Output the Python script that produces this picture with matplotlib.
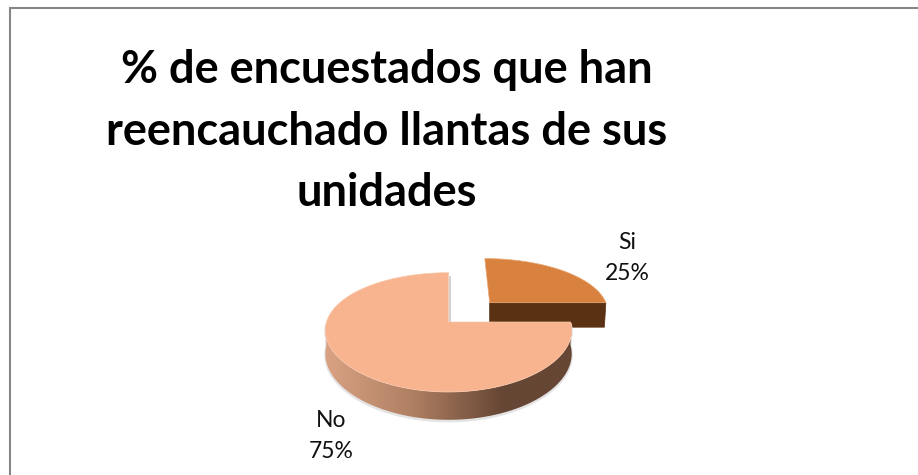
import numpy as np
import matplotlib
matplotlib.use("Agg")
import matplotlib.pyplot as plt
from matplotlib.patches import Polygon
from matplotlib.colors import LinearSegmentedColormap

# Survey results
categories = ["Si", "No"]
values = [25, 75]
title_lines = ["% de encuestados que han", "reencauchado llantas de sus", "unidades"]

W, H = 918, 475
fig = plt.figure(figsize=(W / 100, H / 100), dpi=100)
ax = fig.add_axes([0, 0, 1, 1])
ax.set_xlim(0, W)
ax.set_ylim(H, 0)
ax.axis("off")
plt.rcParams["font.family"] = ["Lato", "DejaVu Sans"]

# Chart frame: only the top and left edges fall inside the canvas
ax.plot([10, 10, W], [H, 8, 8], color="#868686", lw=1.5, solid_joinstyle="miter")

# Perspective view of the pie plane
CX, CY, RX, A, BX, BY, DEPTH = 448.5, 322.0, 122.0, 57.85, 0.14, 0.1735, 23.0


def project(u, v, z=0.0):
    return CX + RX * u / (1 + BX * v), CY + (z - A * v) / (1 + BY * v)


def slice_outline(start, stop, du=0.0, dv=0.0, n=120):
    t = np.radians(np.linspace(start, stop, n))
    u = np.concatenate([[du], du + np.sin(t), [du]])
    v = np.concatenate([[dv], dv + np.cos(t), [dv]])
    return u, v


fractions = np.array(values) / sum(values) * 360
si_sweep, no_sweep = fractions

# Exploded "Si" slice: flat front wall, then the top face
EXPLODE = 0.354
u, v = slice_outline(0, si_sweep, EXPLODE, EXPLODE)
x0, y0 = project(u, v)
x1, y1 = project(u, v, DEPTH * 1.13)
front = np.array([[x0[0], y0[0]], [x0[-2], y0[-2]], [x1[-2] - 1.5, y1[-2]], [x1[0], y1[0]]])
ax.add_patch(Polygon(front, fc="#5A3213", ec="#5A3213", lw=0.5, zorder=2))
ax.add_patch(Polygon(np.c_[x0, y0], fc="#D9823F", ec="#E7A877", lw=0.5, zorder=3))

# "No" slice: curved wall with a horizontal gradient, then the top face
u, v = slice_outline(si_sweep, si_sweep + no_sweep)
u, v = u[1:-1], v[1:-1]
x0, y0 = project(u, v)
x1, y1 = project(u, v, DEPTH)
visible = v <= 0.02
wall_xy = np.r_[np.c_[x0[visible], y0[visible]], np.c_[x1[visible], y1[visible]][::-1]]
ax.add_patch(Polygon(wall_xy + [0, 1.5], fc="#E4E4E4", ec="#E4E4E4", lw=1.5, zorder=3))
wall = Polygon(wall_xy, fc="none", ec="none", zorder=4)
ax.add_patch(wall)
wall_cmap = LinearSegmentedColormap.from_list(
    "wall",
    [(0, "#D9A283"), (0.35, "#B08063"), (0.72, "#664634"), (1, "#664634")],
)
grad = ax.imshow(
    np.linspace(0, 1, 256)[None, :], cmap=wall_cmap, aspect="auto",
    extent=(x0.min(), x0.max(), H, 0), zorder=4,
)
grad.set_clip_path(wall)
ax.set_xlim(0, W)
ax.set_ylim(H, 0)

ux, vx = slice_outline(si_sweep, si_sweep + no_sweep)
tx, ty = project(ux, vx)
ax.plot([CX + 1, CX + 1], [ty[-2] + 4, CY], color="#C8C8C8", lw=1.2, zorder=3)
ax.add_patch(Polygon(np.c_[tx, ty], fc="#F7B48F", ec="#F9C8AC", lw=0.5, zorder=5))

# Slice labels
label_pos = {"Si": (627, 258), "No": (331, 436)}
for name, val in zip(categories, values):
    lx, ly = label_pos[name]
    ax.text(lx, ly, f"{name}\n{val}%", ha="center", va="center", fontsize=16.5,
            color="#111111", linespacing=1.62, zorder=6)

# Title
for line, y in zip(title_lines, [70, 132, 193]):
    ax.text(386.5, y, line, ha="center", va="center", fontsize=32.5, fontweight="bold",
            color="black")

fig.savefig("out.png", dpi=100, facecolor="white")
